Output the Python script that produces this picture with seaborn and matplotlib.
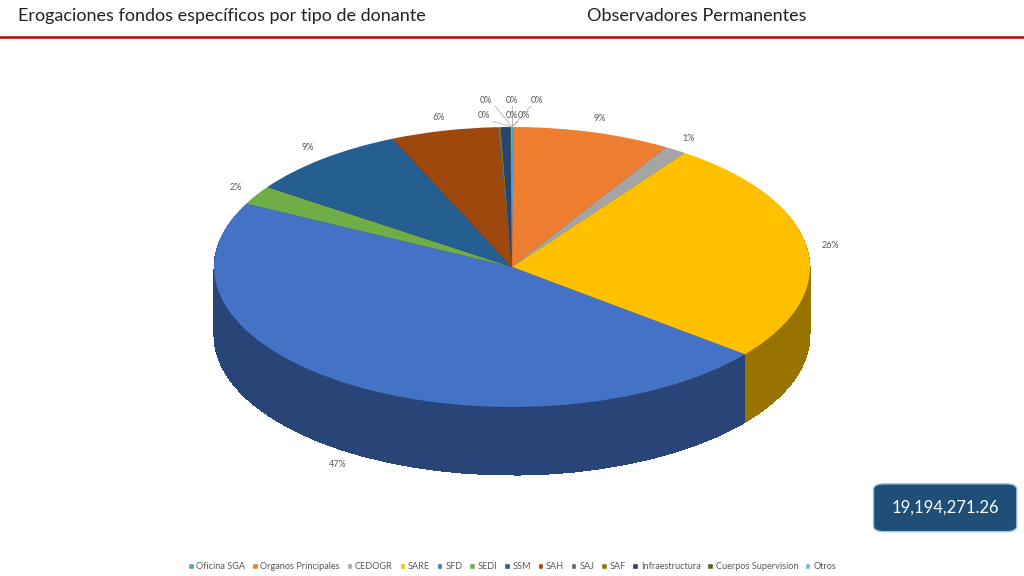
import numpy as np
import matplotlib
matplotlib.use("Agg")
import matplotlib.pyplot as plt
import seaborn as sns
from matplotlib.patches import FancyBboxPatch, Patch
import matplotlib.colors as mc

categories = ["Oficina SGA", "Organos Principales", "CEDOGR", "SARE", "SFD", "SEDI", "SSM",
              "SAH", "SAJ", "SAF", "Infraestructura", "Cuerpos Supervision", "Otros"]
values = [0.1, 8.6, 1.2, 26.0, 47.0, 2.2, 8.8, 5.8, 0.1, 0.1, 0.5, 0.05, 0.05]
total_label = "19,194,271.26"
colors = ["#5B9BD5", "#ED7D31", "#A5A5A5", "#FFC000", "#4472C4", "#70AD47", "#255E91",
          "#9E480E", "#636363", "#997300", "#264478", "#43682B", "#7CAFDD"]

sns.set_theme(style="white", font="Lato")
fig = plt.figure(figsize=(10.24, 5.76), dpi=100)
ax = fig.add_axes([0, 0, 1, 1])

def darker(c, f):
    r, g, b = mc.to_rgb(c)
    return (r * f, g * f, b * f)

depth = 0.486
steps = 50
for i in range(steps, 0, -1):
    dy = -depth * i / steps
    ax.pie(values, colors=[darker(c, 0.6) for c in colors], startangle=90,
           counterclock=False, center=(0, dy), radius=1, frame=True,
           wedgeprops=dict(linewidth=0, antialiased=False))
wedges, _ = ax.pie(values, colors=colors, startangle=90, counterclock=False,
                   center=(0, 0), radius=1, frame=True, wedgeprops=dict(linewidth=0))
ax.set_aspect("auto")
ax.set_xlim(-1.718, 1.718)
ax.set_ylim(-2.207, 1.907)
ax.axis("off")

vals = np.array(values)
pct = vals / vals.sum() * 100
manual = {0: (-0.087, 1.19), 8: (0.0, 1.19), 9: (0.084, 1.19), 10: (0.04, 1.08),
          11: (-0.094, 1.08), 12: (0.0, 1.08)}
cum = 0
for i, (v, p) in enumerate(zip(vals, pct)):
    mid = 90 - (cum + v / 2) / vals.sum() * 360
    cum += v
    if i in manual:
        x, y = manual[i]
        ax.plot([x + (0.03 if x < 0 else -0.02 if x > 0 else 0), 0.0], [y - 0.04, 1.0],
                color="#A5A5A5", lw=0.5)
    else:
        a = np.deg2rad(mid)
        x, y = 1.08 * np.cos(a), 1.1 * np.sin(a)
        if y < 0:
            y -= depth
    ax.text(x, y, f"{p:.0f}%", ha="center", va="center", fontsize=6.5, color="#595959")

fig.text(0.018, 0.972, "Erogaciones fondos específicos por tipo de donante", fontsize=13,
         ha="left", va="center", color="#222222")
fig.text(0.573, 0.972, "Observadores Permanentes", fontsize=13, ha="left", va="center",
         color="#222222")
fig.add_artist(plt.Line2D([0, 1], [0.936, 0.936], color="#C00000", lw=1.8))

box = FancyBboxPatch((0.853, 0.077), 0.14, 0.083, boxstyle="round,pad=0,rounding_size=0.01",
                     transform=fig.transFigure, facecolor="#1F4E79", edgecolor="#9DC3E6", lw=1)
fig.add_artist(box)
fig.text(0.923, 0.118, total_label, ha="center", va="center", fontsize=12, color="white")

handles = [Patch(facecolor=c, label=n) for c, n in zip(colors, categories)]
fig.legend(handles=handles, loc="center", bbox_to_anchor=(0.5, 0.016), ncol=13, frameon=False,
           fontsize=6.6, handlelength=0.6, handleheight=0.6, handletextpad=0.3, columnspacing=0.75,
           labelcolor="#595959")
fig.savefig("out.png", dpi=100)
